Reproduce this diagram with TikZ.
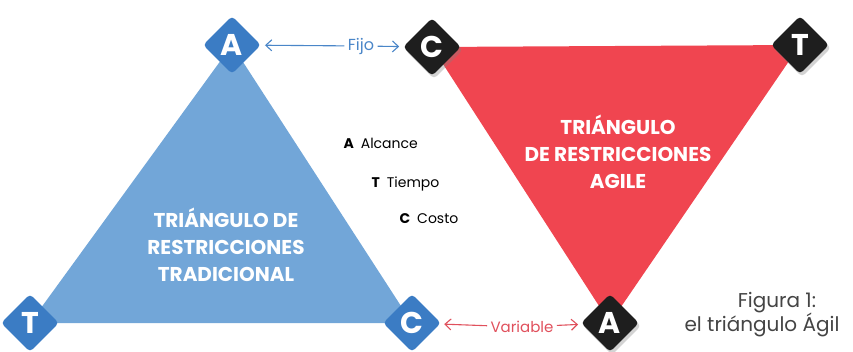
\documentclass[tikz,border=0pt]{standalone}
\usepackage{fontspec}
\setmainfont{Poppins}
\usetikzlibrary{shapes.geometric, arrows.meta, shadows}

\definecolor{tradfill}{HTML}{72A6D8}
\definecolor{tradkey}{HTML}{3B7CC4}
\definecolor{agilefill}{HTML}{F04550}
\definecolor{agilekey}{HTML}{1E1E1E}
\definecolor{fijotext}{HTML}{4A86C8}
\definecolor{vartext}{HTML}{E0505C}
\definecolor{captext}{HTML}{444444}

\tikzset{
    corner/.style={shape=diamond, aspect=1, minimum size=58pt, inner sep=0pt,
        rounded corners=4pt, text=white, font=\fontsize{30}{30}\selectfont\bfseries},
    tradcorner/.style={corner, fill=tradkey},
    agilecorner/.style={corner, fill=agilekey,
        drop shadow={shadow xshift=2pt, shadow yshift=-3pt, opacity=0.35}},
    title/.style={align=center, text=white, font=\fontsize{20}{27}\selectfont\bfseries},
    legend/.style={anchor=west, font=\fontsize{14}{16}\selectfont},
    rel/.style={-{Straight Barb[length=6pt, width=11pt]}, line width=1.1pt, shorten >=4pt}
}

\begin{document}
\begin{tikzpicture}[x=1pt, y=-1pt]
    \useasboundingbox (0, 0) rectangle (853, 352);

    % tradicional
    \coordinate (ta) at (232, 45);
    \coordinate (tt) at (30, 323);
    \coordinate (tc) at (412, 323);
    \fill[tradfill] (ta) -- (tt) -- (tc) -- cycle;
    \node[title] (tradname) at (226, 245) {TRIÁNGULO DE\\RESTRICCIONES\\TRADICIONAL};
    \node[tradcorner] (tradA) at (ta) {A};
    \node[tradcorner] (tradT) at (tt) {T};
    \node[tradcorner] (tradC) at (tc) {C};

    % agile
    \coordinate (ac) at (432, 47);
    \coordinate (at) at (800, 45);
    \coordinate (aa) at (610, 323);
    \fill[agilefill] (ac) -- (at) -- (aa) -- cycle;
    \node[title] (agilename) at (618, 152) {TRIÁNGULO\\DE RESTRICCIONES\\AGILE};
    \node[agilecorner] (agileC) at (ac) {C};
    \node[agilecorner] (agileT) at (at) {T};
    \node[agilecorner] (agileA) at (aa) {A};

    % fijo / variable
    \node[text=fijotext, font=\fontsize{16}{18}\selectfont] (fijo) at (361, 46) {Fijo};
    \draw[rel, fijotext] (fijo) -- (tradA);
    \draw[rel, fijotext] (fijo) -- (agileC);
    \node[text=vartext, font=\fontsize{15}{18}\selectfont] (variable) at (522, 327) {Variable};
    \draw[rel, vartext] (variable) -- (tradC);
    \draw[rel, vartext] (variable) -- (agileA);

    % leyenda
    \node[legend] (alcance) at (340, 143) {\textbf{A}\hspace{7pt}Alcance};
    \node[legend] (tiempo) at (368, 184) {\textbf{T}\hspace{7pt}Tiempo};
    \node[legend] (costo) at (396, 219) {\textbf{C}\hspace{7pt}Costo};

    \node[align=center, text=captext, font=\fontsize{20}{24}\selectfont] (figura) at (762, 315)
        {\hspace*{30pt}Figura 1:\\el triángulo Ágil};
\end{tikzpicture}
\end{document}
